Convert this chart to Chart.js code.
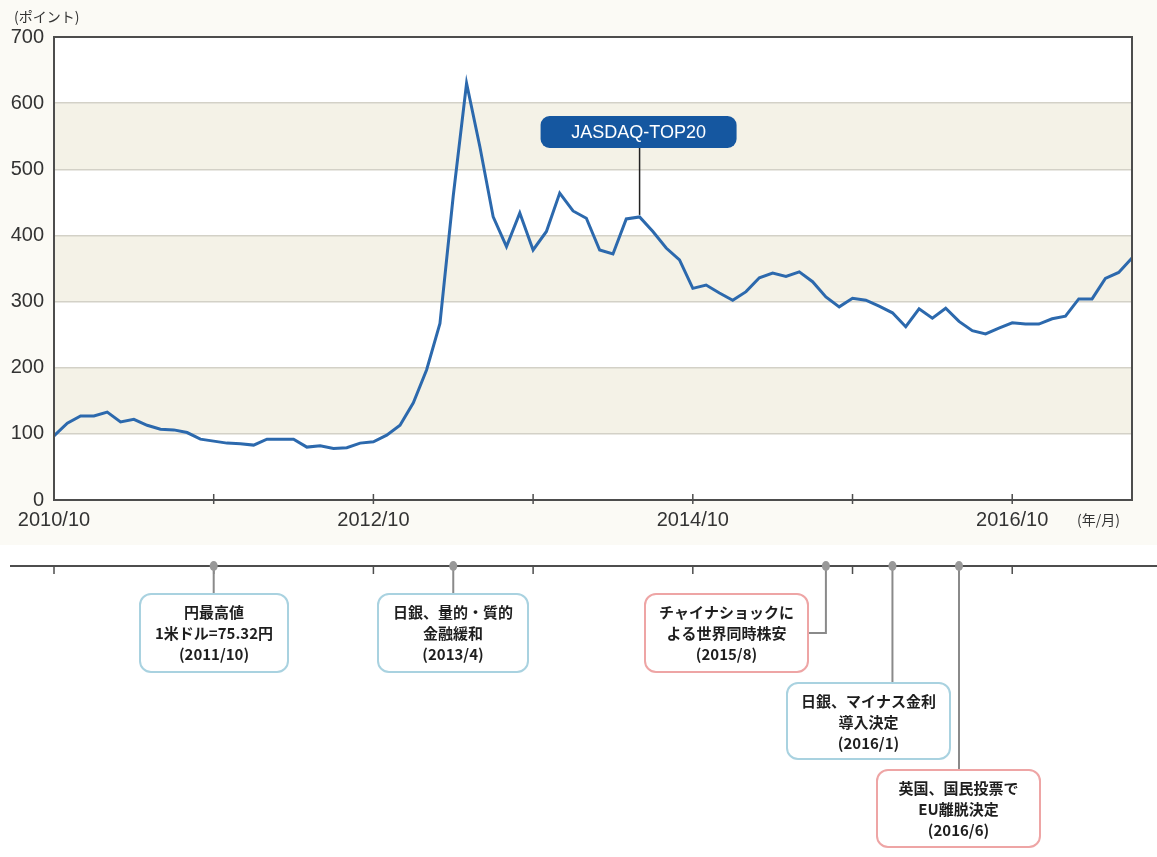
<!DOCTYPE html>
<html>
<head>
<meta charset="utf-8">
<script src="https://cdn.jsdelivr.net/npm/chart.js@4.4.0/dist/chart.umd.min.js"></script>
<style>
    html, body { margin: 0; padding: 0; background: #fff; }
    #wrap { width: 1157px; height: 857px; position: relative; }
</style>
</head>
<body>
<div id="wrap"><canvas id="chart" width="1157" height="857"></canvas></div>
<script>
    // データ (月次, 2010/10 〜 2017/7)
    var START_YEAR = 2010, START_MONTH = 10;
    var values = [97, 116, 127, 127, 133, 118, 122, 113, 107, 106, 102, 92,
        89, 86, 85, 83, 92, 92, 92, 80, 82, 78, 79, 86,
        88, 98, 113, 147, 197, 267, 460, 630, 534, 428, 383, 434,
        378, 406, 464, 437, 426, 378, 372, 425, 428, 406, 381, 363,
        320, 325, 313, 302, 315, 336, 343, 338, 345, 330, 307, 292,
        305, 302, 293, 283, 262, 289, 275, 290, 270, 256, 251, 260,
        268, 266, 266, 274, 278, 304, 304, 335, 344, 366];
    var months = [];
    for (var i = 0; i < values.length; i++) {
        var m = START_MONTH - 1 + i;
        months.push((START_YEAR + Math.floor(m / 12)) + '/' + (m % 12 + 1));
    }
    var xTickLabels = ['2010/10', '2012/10', '2014/10', '2016/10'];
    var yTicks = [0, 100, 200, 300, 400, 500, 600, 700];
    var seriesName = 'JASDAQ-TOP20';
    var seriesLabelAt = '2014/6';

    // 出来事
    var eventMonths = ['2011/10', '2013/4', '2015/8', '2016/1', '2016/6'];
    var eventTexts = [
        ['円最高値', '1米ドル=75.32円', '(2011/10)'],
        ['日銀、量的・質的', '金融緩和', '(2013/4)'],
        ['チャイナショックに', 'よる世界同時株安', '(2015/8)'],
        ['日銀、マイナス金利', '導入決定', '(2016/1)'],
        ['英国、国民投票で', 'EU離脱決定', '(2016/6)']
    ];
    var eventKinds = ['jp', 'jp', 'world', 'jp', 'world'];

    // 色・配置
    var LINE_COLOR = '#2c69ad';
    var BAND_COLOR = '#f4f2e7';
    var AXIS_COLOR = '#4d4d4d';
    var NUM_FONT = '"Liberation Sans Narrow", "Liberation Sans", Arial, sans-serif';
    var JP_FONT = '"Noto Sans CJK JP", "Noto Sans", sans-serif';
    // 箱の位置 [左, 上, 幅, 高さ]
    var boxes = [
        [140, 594, 148, 78],
        [378, 594, 150, 78],
        [645, 594, 163, 78],
        [787, 683, 163, 76],
        [877, 770, 163, 77]
    ];
    var TIMELINE_Y = 566;

    function roundRect(ctx, x, y, w, h, r) {
        ctx.beginPath();
        ctx.moveTo(x + r, y);
        ctx.lineTo(x + w - r, y);
        ctx.arcTo(x + w, y, x + w, y + r, r);
        ctx.lineTo(x + w, y + h - r);
        ctx.arcTo(x + w, y + h, x + w - r, y + h, r);
        ctx.lineTo(x + r, y + h);
        ctx.arcTo(x, y + h, x, y + h - r, r);
        ctx.lineTo(x, y + r);
        ctx.arcTo(x, y, x + r, y, r);
        ctx.closePath();
    }

    // 背景・帯
    var bgPlugin = {
        id: 'bg',
        beforeDraw: function (chart) {
            var ctx = chart.ctx, ca = chart.chartArea, ys = chart.scales.y;
            ctx.save();
            ctx.fillStyle = '#fbfaf5';
            ctx.fillRect(0, 0, chart.width, 545);
            ctx.fillStyle = '#ffffff';
            ctx.fillRect(0, 545, chart.width, chart.height - 545);
            ctx.fillRect(ca.left, ca.top, ca.right - ca.left, ca.bottom - ca.top);
            ctx.fillStyle = BAND_COLOR;
            for (var v = 100; v < 700; v += 200) {
                var y1 = ys.getPixelForValue(v + 100), y2 = ys.getPixelForValue(v);
                ctx.fillRect(ca.left, y1, ca.right - ca.left, y2 - y1);
            }
            ctx.restore();
        },
        afterDraw: function (chart) {
            var ctx = chart.ctx, ca = chart.chartArea, xs = chart.scales.x, ys = chart.scales.y;
            ctx.save();
            // 枠
            ctx.strokeStyle = AXIS_COLOR;
            ctx.lineWidth = 2;
            ctx.strokeRect(ca.left, ca.top, ca.right - ca.left, ca.bottom - ca.top);
            // 目盛り
            ctx.lineWidth = 1.5;
            for (var i = 12; i < months.length; i += 12) {
                var x = xs.getPixelForValue(i);
                ctx.beginPath();
                ctx.moveTo(x, ca.bottom - 6);
                ctx.lineTo(x, ca.bottom + 4);
                ctx.stroke();
            }
            // 単位
            ctx.fillStyle = '#333';
            ctx.font = '14px ' + JP_FONT;
            ctx.textBaseline = 'middle';
            ctx.textAlign = 'left';
            ctx.fillText('(ポイント)', 14, 17);
            ctx.fillText('(年/月)', 1077, 520);

            // 系列ラベル
            var idx = months.indexOf(seriesLabelAt);
            var px = xs.getPixelForValue(idx), py = ys.getPixelForValue(values[idx]);
            ctx.strokeStyle = '#222';
            ctx.lineWidth = 1.5;
            ctx.beginPath();
            ctx.moveTo(px, 148);
            ctx.lineTo(px, py - 2);
            ctx.stroke();
            roundRect(ctx, px - 99, 116, 196, 32, 9);
            ctx.fillStyle = '#1557a0';
            ctx.fill();
            ctx.fillStyle = '#fff';
            ctx.font = '18px ' + NUM_FONT;
            ctx.textAlign = 'center';
            ctx.fillText(seriesName, px - 1, 133);

            // 年表
            ctx.strokeStyle = AXIS_COLOR;
            ctx.lineWidth = 2;
            ctx.beginPath();
            ctx.moveTo(10, TIMELINE_Y);
            ctx.lineTo(chart.width, TIMELINE_Y);
            ctx.stroke();
            ctx.lineWidth = 1.5;
            for (var j = 0; j < months.length; j += 12) {
                var tx = xs.getPixelForValue(j);
                ctx.beginPath();
                ctx.moveTo(tx, TIMELINE_Y);
                ctx.lineTo(tx, TIMELINE_Y + 8);
                ctx.stroke();
            }
            eventMonths.forEach(function (em, k) {
                var ex = xs.getPixelForValue(months.indexOf(em));
                var b = boxes[k];
                ctx.strokeStyle = '#8a8a8a';
                ctx.lineWidth = 2;
                ctx.beginPath();
                ctx.moveTo(ex, TIMELINE_Y);
                if (ex > b[0] + b[2]) {
                    var my = b[1] + b[3] / 2;
                    ctx.lineTo(ex, my);
                    ctx.lineTo(b[0] + b[2], my);
                } else {
                    ctx.lineTo(ex, b[1]);
                }
                ctx.stroke();
                ctx.fillStyle = '#999';
                ctx.beginPath();
                ctx.ellipse(ex, TIMELINE_Y, 4, 5, 0, 0, Math.PI * 2);
                ctx.fill();

                roundRect(ctx, b[0], b[1], b[2], b[3], 11);
                ctx.fillStyle = '#fff';
                ctx.fill();
                ctx.strokeStyle = eventKinds[k] === 'jp' ? '#a9d2e0' : '#eea5a5';
                ctx.lineWidth = 2;
                ctx.stroke();
                ctx.fillStyle = '#1e1e1e';
                ctx.font = 'bold 15px ' + JP_FONT;
                ctx.textAlign = 'center';
                var cx = b[0] + b[2] / 2;
                eventTexts[k].forEach(function (t, n) {
                    ctx.fillText(t, cx, b[1] + 18 + n * 21);
                });
            });
            ctx.restore();
        }
    };

    var ctx = document.getElementById('chart').getContext('2d');
    window.myLine = new Chart(ctx, {
        type: 'line',
        data: {
            labels: months,
            datasets: [{
                label: seriesName,
                data: values,
                borderColor: LINE_COLOR,
                borderWidth: 3,
                pointRadius: 0,
                tension: 0,
                fill: false
            }]
        },
        options: {
            responsive: false,
            animation: false,
            devicePixelRatio: 1,
            layout: { padding: { top: 37, right: 25, left: 0, bottom: 0 } },
            plugins: { legend: { display: false }, tooltip: { enabled: false } },
            scales: {
                x: {
                    type: 'category',
                    offset: false,
                    grid: { display: false, drawTicks: false },
                    border: { display: false },
                    ticks: {
                        autoSkip: false, maxRotation: 0, minRotation: 0, padding: 8,
                        color: '#333', font: { family: NUM_FONT, size: 20 },
                        callback: function (v) {
                            var l = this.getLabelForValue(v);
                            return xTickLabels.indexOf(l) >= 0 ? l : '';
                        }
                    },
                    afterFit: function (s) { s.height = 357; }
                },
                y: {
                    min: 0, max: 700,
                    afterBuildTicks: function (s) {
                        s.ticks = yTicks.map(function (v) { return { value: v }; });
                    },
                    grid: { color: '#d3d1c7', lineWidth: 1.5, drawTicks: false },
                    border: { display: false },
                    ticks: { padding: 10, color: '#333', font: { family: NUM_FONT, size: 20 } },
                    afterFit: function (s) { s.width = 54; }
                }
            }
        },
        plugins: [bgPlugin]
    });
</script>
</body>
</html>
